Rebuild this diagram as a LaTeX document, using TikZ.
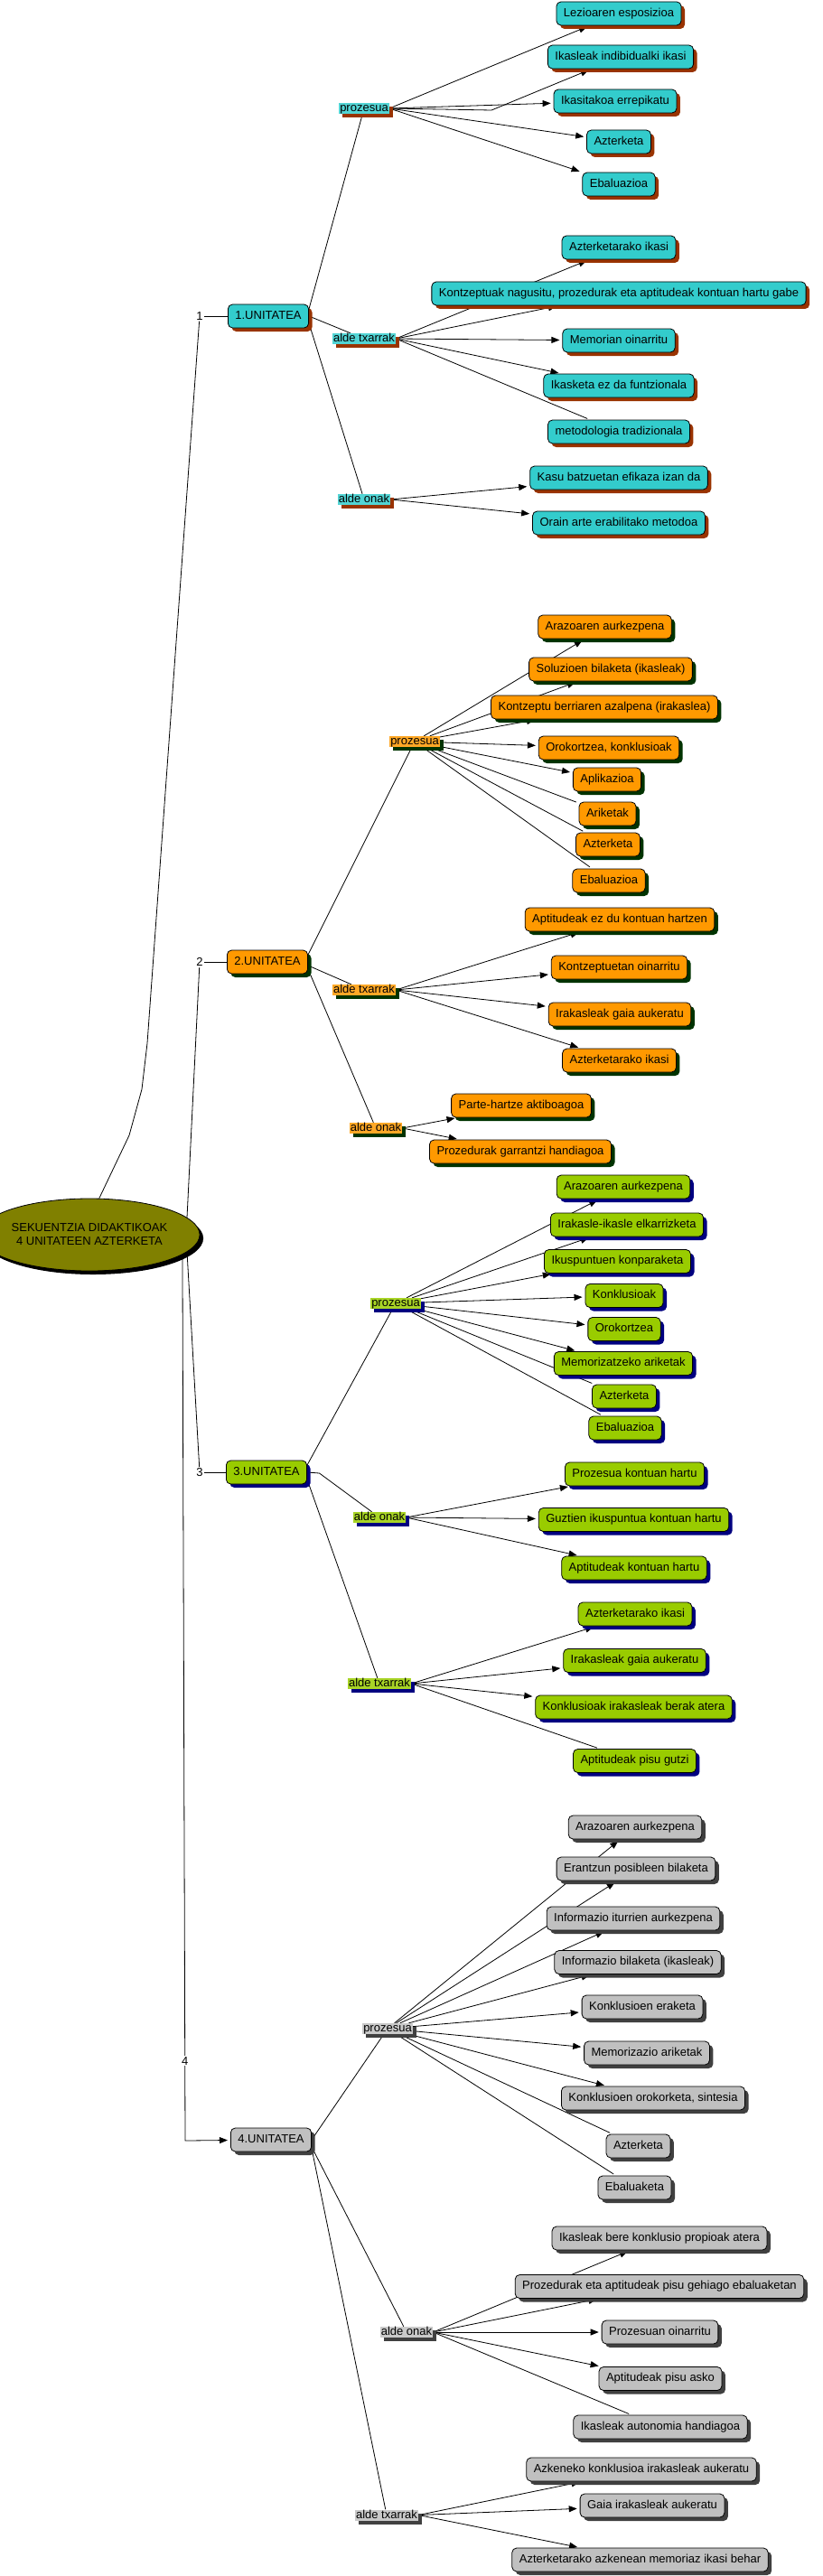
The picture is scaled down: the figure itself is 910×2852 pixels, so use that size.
\documentclass[tikz,border=0pt]{standalone}
\usepackage{fontspec}
\setmainfont{Liberation Sans}
\usetikzlibrary{arrows.meta,shadows,shapes.geometric}
\pgfdeclarelayer{bg}
\pgfsetlayers{bg,main}
\definecolor{tealA}{HTML}{33CCCC}
\definecolor{brownA}{HTML}{993300}
\definecolor{orangeB}{HTML}{FF9900}
\definecolor{greenB}{HTML}{003300}
\definecolor{limeC}{HTML}{99CC00}
\definecolor{navyC}{HTML}{000080}
\definecolor{greyD}{HTML}{C0C0C0}
\definecolor{darkD}{HTML}{404040}
\definecolor{oliveR}{HTML}{808000}
\newcommand\unitfont{\fontsize{13}{15}\selectfont}
\tikzset{
	sh/.style={drop shadow={shadow xshift=4pt, shadow yshift=-4pt, fill=#1, opacity=1}},
	ubox/.style={draw, rounded corners=5pt, line width=0.8pt, minimum height=26pt, inner xsep=8pt, inner ysep=0pt, text height=9.5pt, text depth=3pt, font=\unitfont},
	cat/.style={inner xsep=1pt, inner ysep=0pt, text height=9.5pt, text depth=2.5pt, font=\unitfont},
	ubox1/.style={ubox, fill=tealA, sh=brownA},
	cat1/.style={cat, fill=tealA!85!white, sh=brownA},
	ubox2/.style={ubox, fill=orangeB, sh=greenB},
	cat2/.style={cat, fill=orangeB!85!white, sh=greenB},
	ubox3/.style={ubox, fill=limeC, sh=navyC},
	cat3/.style={cat, fill=limeC!85!white, sh=navyC},
	ubox4/.style={ubox, fill=greyD, sh=darkD},
	cat4/.style={cat, fill=greyD!85!white, sh=darkD},
	rootnode/.style={ellipse, draw, line width=0.8pt, fill=oliveR, minimum width=196pt, minimum height=80pt, inner sep=0pt, align=center, font=\unitfont, sh=black},
	num/.style={font=\unitfont, fill=white, inner sep=1pt},
	link/.style={line width=0.8pt},
	conn/.style={line width=0.8pt, shorten >=3pt},
	arr/.style={conn, ->, >={Triangle[length=9pt,width=7pt]}}
}
\begin{document}
\begin{tikzpicture}[x=1pt, y=-1pt]
				\useasboundingbox (0,0) rectangle (910,2852);
				\node[rootnode] (root)at(99, 1367) {SEKUENTZIA DIDAKTIKOAK\\4 UNITATEEN AZTERKETA};
				\node[num] (n1)at(221, 350) {1};
				\node[num] (n2)at(221, 1065) {2};
				\node[num] (n3)at(221, 1630) {3};
				\coordinate (c4)at(205, 2370);
				\node[ubox1] (u1)at(297, 350) {1.UNITATEA};
				\node[ubox2] (u2)at(296, 1065) {2.UNITATEA};
				\node[ubox3] (u3)at(295, 1630) {3.UNITATEA};
				\node[ubox4] (u4)at(300, 2369) {4.UNITATEA};

				\node[cat1] (p1)at(403, 120) {prozesua};
				\node[cat1] (t1)at(403, 375) {alde txarrak};
				\node[cat1] (o1)at(403, 553) {alde onak};
				\coordinate (k1)at(544, 122);
				\node[ubox1] (a11)at(685, 15) {Lezioaren esposizioa};
				\node[ubox1] (a12)at(687, 63) {Ikasleak indibidualki ikasi};
				\node[ubox1] (a13)at(681, 112) {Ikasitakoa errepikatu};
				\node[ubox1] (a14)at(685, 157) {Azterketa};
				\node[ubox1] (a15)at(685, 204) {Ebaluazioa};
				\node[ubox1] (b11)at(685, 274) {Azterketarako ikasi};
				\node[ubox1] (b12)at(685, 325) {Kontzeptuak nagusitu, prozedurak eta aptitudeak kontuan hartu gabe};
				\node[ubox1] (b13)at(685, 377) {Memorian oinarritu};
				\node[ubox1] (b14)at(685, 427) {Ikasketa ez da funtzionala};
				\node[ubox1] (b15)at(685, 478) {metodologia tradizionala};
				\node[ubox1] (c11)at(685, 529) {Kasu batzuetan efikaza izan da};
				\node[ubox1] (c12)at(685, 579) {Orain arte erabilitako metodoa};

				\node[cat2] (p2)at(459, 821) {prozesua};
				\node[cat2] (t2)at(403, 1096) {alde txarrak};
				\node[cat2] (o2)at(416, 1249) {alde onak};
				\node[ubox2] (a21)at(669.5, 694) {Arazoaren aurkezpena};
				\node[ubox2] (a22)at(676, 741) {Soluzioen bilaketa (ikasleak)};
				\node[ubox2] (a23)at(669, 783) {Kontzeptu berriaren azalpena (irakaslea)};
				\node[ubox2] (a24)at(674, 828) {Orokortzea, konklusioak};
				\node[ubox2] (a25)at(672, 863) {Aplikazioa};
				\node[ubox2] (a26)at(672.5, 901) {Ariketak};
				\node[ubox2] (a27)at(673, 935) {Azterketa};
				\node[ubox2] (a28)at(674, 975) {Ebaluazioa};
				\node[ubox2] (b21)at(686, 1018) {Aptitudeak ez du kontuan hartzen};
				\node[ubox2] (b22)at(685.5, 1071) {Kontzeptuetan oinarritu};
				\node[ubox2] (b23)at(686, 1123) {Irakasleak gaia aukeratu};
				\node[ubox2] (b24)at(685.5, 1174) {Azterketarako ikasi};
				\node[ubox2] (c21)at(577, 1224) {Parte-hartze aktiboagoa};
				\node[ubox2] (c22)at(576, 1275) {Prozedurak garrantzi handiagoa};

				\node[cat3] (p3)at(438, 1443) {prozesua};
				\node[cat3] (o3)at(420, 1680) {alde onak};
				\node[cat3] (t3)at(420, 1864) {alde txarrak};
				\coordinate (k3)at(353.5, 1631);
				\node[ubox3] (a31)at(690, 1314) {Arazoaren aurkezpena};
				\node[ubox3] (a32)at(694, 1356) {Irakasle-ikasle elkarrizketa};
				\node[ubox3] (a33)at(683.5, 1396.5) {Ikuspuntuen konparaketa};
				\node[ubox3] (a34)at(691, 1434.5) {Konklusioak};
				\node[ubox3] (a35)at(691, 1471.5) {Orokortzea};
				\node[ubox3] (a36)at(690, 1509.5) {Memorizatzeko ariketak};
				\node[ubox3] (a37)at(691, 1546) {Azterketa};
				\node[ubox3] (a38)at(692, 1581) {Ebaluazioa};
				\node[ubox3] (b31)at(702.5, 1632) {Prozesua kontuan hartu};
				\node[ubox3] (b32)at(701.5, 1682.5) {Guztien ikuspuntua kontuan hartu};
				\node[ubox3] (b33)at(702, 1736) {Aptitudeak kontuan hartu};
				\node[ubox3] (c31)at(703, 1787) {Azterketarako ikasi};
				\node[ubox3] (c32)at(702.5, 1838.5) {Irakasleak gaia aukeratu};
				\node[ubox3] (c33)at(701.5, 1890) {Konklusioak irakasleak berak atera};
				\node[ubox3] (c34)at(702.5, 1949.5) {Aptitudeak pisu gutzi};

				\node[cat4] (p4)at(429, 2246) {prozesua};
				\node[cat4] (o4)at(450, 2582) {alde onak};
				\node[cat4] (t4)at(428, 2784.5) {alde txarrak};
				\node[ubox4] (a41)at(703, 2023) {Arazoaren aurkezpena};
				\node[ubox4] (a42)at(704, 2069) {Erantzun posibleen bilaketa};
				\node[ubox4] (a43)at(701, 2124) {Informazio iturrien aurkezpena};
				\node[ubox4] (a44)at(706, 2172.5) {Informazio bilaketa (ikasleak)};
				\node[ubox4] (a45)at(711, 2222) {Konklusioen eraketa};
				\node[ubox4] (a46)at(716, 2273) {Memorizazio ariketak};
				\node[ubox4] (a47)at(723, 2323) {Konklusioen orokorketa, sintesia};
				\node[ubox4] (a48)at(706.5, 2376) {Azterketa};
				\node[ubox4] (a49)at(702.5, 2422) {Ebaluaketa};
				\node[ubox4] (b41)at(730, 2478) {Ikasleak bere konklusio propioak atera};
				\node[ubox4] (b42)at(730, 2531.5) {Prozedurak eta aptitudeak pisu gehiago ebaluaketan};
				\node[ubox4] (b43)at(730.5, 2582) {Prozesuan oinarritu};
				\node[ubox4] (b44)at(731, 2633.5) {Aptitudeak pisu asko};
				\node[ubox4] (b45)at(731, 2687) {Ikasleak autonomia handiagoa};
				\node[ubox4] (c41)at(710, 2734) {Azkeneko konklusioa irakasleak aukeratu};
				\node[ubox4] (c42)at(722, 2774) {Gaia irakasleak aukeratu};
				\node[ubox4] (c43)at(708.5, 2834) {Azterketarako azkenean memoriaz ikasi behar};

				\begin{pgfonlayer}{bg}
				\fill[white] (0,0) rectangle (910,2852);
				\draw[link] (root.75) -- (143, 1257) -- (157, 1206) -- (163, 1155) -- (n1);
				\draw[link] (root.10) -- (n2);
				\draw[link] (root.-10) -- (n3);
				\draw[arr] (root.-12) -- node[num, pos=0.91] {4} (c4) -- (u4);
				\draw[link] (n1) -- (u1);
				\draw[link] (n2) -- (u2);
				\draw[link] (n3) -- (u3);

				\draw[link] (u1.10) -- (p1);
				\draw[link] (u1.east) -- (t1);
				\draw[link] (u1.-10) -- (o1);
				\draw[arr] (p1.east) -- (a11);
				\draw[arr] (p1.east) -- (k1) -- (a12);
				\draw[arr] (p1.east) -- (a13);
				\draw[arr] (p1.east) -- (a14);
				\draw[arr] (p1.east) -- (a15);
				\draw[arr] (t1.east) -- (b11);
				\draw[arr] (t1.east) -- (b12);
				\draw[arr] (t1.east) -- (b13);
				\draw[arr] (t1.east) -- (b14);
				\draw[conn] (t1.east) -- (b15);
				\draw[arr] (o1.east) -- (c11);
				\draw[arr] (o1.east) -- (c12);

				\draw[link] (u2.10) -- (p2);
				\draw[link] (u2.-5) -- (t2);
				\draw[link] (u2.-10) -- (o2);
				\draw[arr] (p2) -- (a21);
				\draw[arr] (p2) -- (a22);
				\draw[arr] (p2) -- (a23);
				\draw[arr] (p2) -- (a24);
				\draw[arr] (p2) -- (a25);
				\draw[conn] (p2) -- (a26);
				\draw[conn] (p2) -- (a27);
				\draw[conn] (p2) -- (a28);
				\draw[arr] (t2.east) -- (b21);
				\draw[arr] (t2.east) -- (b22);
				\draw[arr] (t2.east) -- (b23);
				\draw[arr] (t2.east) -- (b24);
				\draw[arr] (o2.east) -- (c21);
				\draw[arr] (o2.east) -- (c22);

				\draw[link] (u3.10) -- (p3);
				\draw[link] (u3.east) -- (k3) -- (o3);
				\draw[link] (u3.-10) -- (t3);
				\draw[arr] (p3) -- (a31);
				\draw[arr] (p3) -- (a32);
				\draw[arr] (p3) -- (a33);
				\draw[arr] (p3) -- (a34);
				\draw[arr] (p3) -- (a35);
				\draw[arr] (p3) -- (a36);
				\draw[conn] (p3) -- (a37);
				\draw[conn] (p3) -- (a38);
				\draw[arr] (o3.east) -- (b31);
				\draw[arr] (o3.east) -- (b32);
				\draw[arr] (o3.east) -- (b33);
				\draw[arr] (t3.east) -- (c31);
				\draw[arr] (t3.east) -- (c32);
				\draw[arr] (t3.east) -- (c33);
				\draw[conn] (t3.east) -- (c34);

				\draw[link] (u4.east) -- (p4);
				\draw[link] (u4.-10) -- (o4);
				\draw[link] (u4.-12) -- (t4);
				\draw[arr] (p4) -- (a41);
				\draw[arr] (p4) -- (a42);
				\draw[arr] (p4) -- (a43);
				\draw[arr] (p4) -- (a44);
				\draw[arr] (p4) -- (a45);
				\draw[arr] (p4) -- (a46);
				\draw[arr] (p4) -- (a47);
				\draw[conn] (p4) -- (a48);
				\draw[conn] (p4) -- (a49);
				\draw[arr] (o4.east) -- (b41);
				\draw[arr] (o4.east) -- (b42);
				\draw[arr] (o4.east) -- (b43);
				\draw[arr] (o4.east) -- (b44);
				\draw[conn] (o4.east) -- (b45);
				\draw[arr] (t4.east) -- (c41);
				\draw[arr] (t4.east) -- (c42);
				\draw[arr] (t4.east) -- (c43);
				\end{pgfonlayer}
			\end{tikzpicture}
\end{document}
